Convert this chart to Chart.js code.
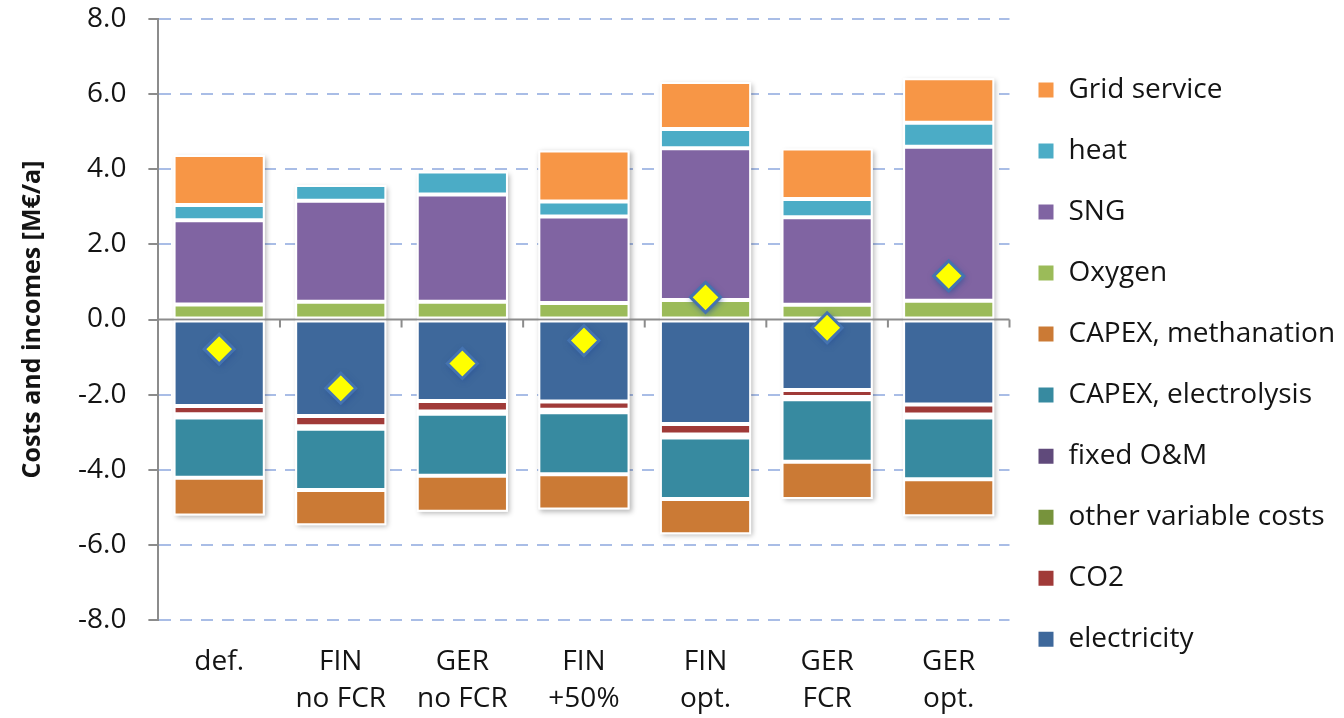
<!DOCTYPE html>
<html>
<head>
<meta charset="utf-8">
<script src="https://cdn.jsdelivr.net/npm/chart.js@4.4.1/dist/chart.umd.min.js"></script>
<style>
  html, body { margin: 0; padding: 0; background: #fff; }
  #wrap { width: 1344px; height: 718px; position: relative; }
</style>
</head>
<body>
<div id="wrap"><canvas id="chart"></canvas></div>
<script>
// categories (two-line labels)
var categories = [["def."], ["FIN", "no FCR"], ["GER", "no FCR"], ["FIN", "+50%"], ["FIN", "opt."], ["GER", "FCR"], ["GER", "opt."]];

// incomes (M€/a)
var gridService = [1.33, null, null, 1.36, 1.25, 1.34, 1.18];
var heat = [0.41, 0.42, 0.61, 0.40, 0.51, 0.49, 0.64];
var sng = [2.24, 2.69, 2.86, 2.30, 4.04, 2.33, 4.10];
var oxygen = [0.40, 0.47, 0.47, 0.44, 0.52, 0.39, 0.50];

// costs (M€/a)
var capexMethanation = [-1.01, -0.94, -0.96, -0.94, -0.94, -0.99, -0.99];
var capexElectrolysis = [-1.60, -1.63, -1.65, -1.65, -1.64, -1.67, -1.64];
var fixedOM = [-0.04, -0.03, -0.03, -0.03, -0.04, -0.03, -0.04];
var otherVariable = [-0.05, -0.04, -0.03, -0.04, -0.04, -0.03, -0.04];
var co2 = [-0.22, -0.27, -0.28, -0.22, -0.28, -0.18, -0.27];
var electricity = [-2.30, -2.57, -2.17, -2.18, -2.78, -1.88, -2.26];

// net result (diamonds)
var netResult = [-0.79, -1.83, -1.17, -0.56, 0.59, -0.22, 1.16];

var yTicks = [-8, -6, -4, -2, 0, 2, 4, 6, 8];

var FONT = "'Open Sans', sans-serif";
var TEXT = '#141414';
var AXIS = '#8c8c8c';
var GRID = '#a9bde6';

function barSet(label, data, color) {
    return {
        type: 'bar',
        label: label,
        data: data,
        backgroundColor: color,
        borderColor: '#ffffff',
        borderWidth: 2,
        borderSkipped: false,
        stack: 'all',
        barPercentage: 0.75,
        categoryPercentage: 1.0,
        order: 2
    };
}

// white box with soft shadow behind each whole stacked column
var columnShadow = {
    id: 'columnShadow',
    beforeDatasetsDraw: function(chart) {
        var ctx = chart.ctx, y = chart.scales.y;
        var meta = chart.getDatasetMeta(0);
        ctx.save();
        meta.data.forEach(function(bar, i) {
            var pos = 0, neg = 0;
            chart.data.datasets.forEach(function(ds) {
                if (ds.type !== 'bar') return;
                var v = ds.data[i] || 0;
                if (v > 0) pos += v; else neg += v;
            });
            var top = y.getPixelForValue(pos), bottom = y.getPixelForValue(neg);
            ctx.shadowColor = 'rgba(0,0,0,0.28)';
            ctx.shadowBlur = 5;
            ctx.shadowOffsetX = 2;
            ctx.shadowOffsetY = 2;
            ctx.fillStyle = '#ffffff';
            ctx.fillRect(bar.x - bar.width / 2, top, bar.width, bottom - top);
        });
        ctx.restore();
    }
};

// solid zero axis with tick marks between categories
var zeroAxis = {
    id: 'zeroAxis',
    beforeDatasetsDraw: function(chart) {
        var ctx = chart.ctx, x = chart.scales.x, y = chart.scales.y;
        var y0 = y.getPixelForValue(0);
        var area = chart.chartArea;
        ctx.save();
        ctx.strokeStyle = AXIS;
        ctx.lineWidth = 2;
        ctx.beginPath();
        ctx.moveTo(area.left, y0);
        ctx.lineTo(area.right, y0);
        var step = x.getPixelForValue(1) - x.getPixelForValue(0);
        for (var i = 0; i < categories.length; i++) {
            var bx = x.getPixelForValue(i) + step / 2;
            ctx.moveTo(bx, y0);
            ctx.lineTo(bx, y0 + 8);
        }
        ctx.stroke();
        ctx.restore();
    }
};

// soft blue glow under the net-result diamonds
var diamondGlow = {
    id: 'diamondGlow',
    beforeDatasetDraw: function(chart, args) {
        if (chart.data.datasets[args.index].type !== 'line') return;
        var ctx = chart.ctx;
        ctx.save();
        ctx.shadowColor = 'rgba(40,80,150,0.7)';
        ctx.shadowBlur = 6;
        ctx.shadowOffsetX = 1;
        ctx.shadowOffsetY = 2;
        ctx.fillStyle = '#4573b0';
        args.meta.data.forEach(function(pt) {
            var r = 16;
            ctx.beginPath();
            ctx.moveTo(pt.x, pt.y - r);
            ctx.lineTo(pt.x + r, pt.y);
            ctx.lineTo(pt.x, pt.y + r);
            ctx.lineTo(pt.x - r, pt.y);
            ctx.closePath();
            ctx.fill();
        });
        ctx.restore();
    }
};

new Chart(document.getElementById('chart'), {
    data: {
        labels: categories,
        datasets: [
            barSet('electricity', electricity, '#3e689b'),
            barSet('CO2', co2, '#a03a38'),
            barSet('other variable costs', otherVariable, '#77933c'),
            barSet('fixed O&M', fixedOM, '#604a7b'),
            barSet('CAPEX, electrolysis', capexElectrolysis, '#378aa0'),
            barSet('CAPEX, methanation', capexMethanation, '#cb7a35'),
            barSet('Oxygen', oxygen, '#9bbb59'),
            barSet('SNG', sng, '#8064a2'),
            barSet('heat', heat, '#4bacc6'),
            barSet('Grid service', gridService, '#f79646'),
            {
                type: 'line',
                label: 'net',
                data: netResult,
                showLine: false,
                pointStyle: 'rectRot',
                pointRadius: 15,
                pointHoverRadius: 15,
                pointBackgroundColor: '#ffff00',
                pointBorderColor: '#4573b0',
                pointBorderWidth: 3,
                order: 1
            }
        ]
    },
    options: {
        responsive: true,
        maintainAspectRatio: false,
        animation: false,
        layout: { padding: { left: 18, top: 0, right: 4, bottom: 0 } },
        plugins: {
            tooltip: { enabled: false },
            legend: {
                position: 'right',
                reverse: true,
                title: { display: true, text: '', padding: { top: 15, bottom: 0 }, font: { size: 1 } },
                labels: {
                    // one-line arrays so the row height follows lineHeight
                    generateLabels: function(chart) {
                        var items = Chart.defaults.plugins.legend.labels.generateLabels(chart);
                        return items.map(function(it) { it.text = [it.text]; return it; });
                    },
                    filter: function(item) { return item.datasetIndex < 10; },
                    boxWidth: 17,
                    boxHeight: 17,
                    padding: 28,
                    color: TEXT,
                    font: { family: FONT, size: 28, lineHeight: 1.18 }
                }
            }
        },
        scales: {
            x: {
                stacked: true,
                grid: { display: false, drawTicks: false },
                border: { display: false },
                afterFit: function(scale) { scale.height = 98; },
                ticks: {
                    color: TEXT,
                    padding: 24,
                    maxRotation: 0,
                    font: { family: FONT, size: 28, lineHeight: 1.32 }
                }
            },
            y: {
                stacked: true,
                min: -8,
                max: 8,
                afterBuildTicks: function(scale) {
                    scale.ticks = yTicks.map(function(v) { return { value: v }; });
                },
                afterFit: function(scale) {
                    scale.paddingTop = 19;
                    scale.paddingBottom = 0;
                },
                title: {
                    display: true,
                    text: 'Costs and incomes [M€/a]',
                    color: TEXT,
                    padding: { top: 0, bottom: 8 },
                    font: { family: FONT, size: 25, weight: 'bold' }
                },
                grid: {
                    color: function(c) { return c.tick && c.tick.value === 0 ? 'rgba(0,0,0,0)' : GRID; },
                    lineWidth: 2,
                    tickColor: AXIS,
                    tickLength: 10,
                    tickWidth: 2,
                    tickBorderDash: []
                },
                border: { color: AXIS, width: 2, dash: [12, 9] },
                ticks: {
                    color: TEXT,
                    padding: 22,
                    font: { family: FONT, size: 28 },
                    callback: function(v) { return Number(v).toFixed(1); }
                }
            }
        }
    },
    plugins: [columnShadow, zeroAxis, diamondGlow]
});
</script>
</body>
</html>
